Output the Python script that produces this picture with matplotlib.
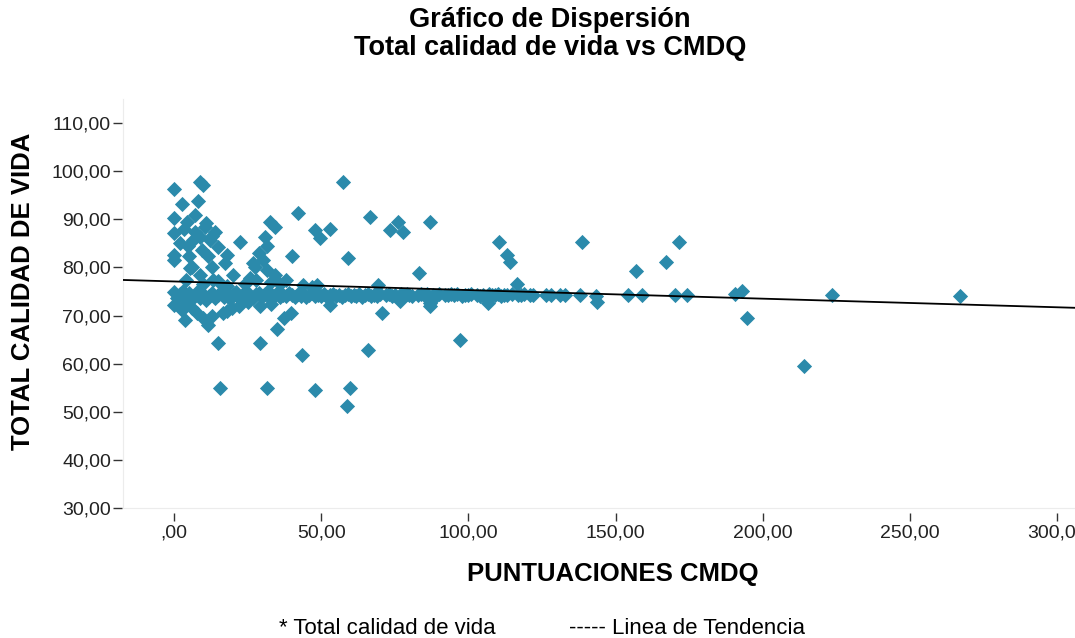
import matplotlib
matplotlib.use("Agg")
import matplotlib.pyplot as plt
import numpy as np

plt.rcParams['font.family'] = ['Liberation Sans', 'DejaVu Sans']

# ---------------- data ----------------
# points in the dense horizontal band (~74)
band_x = [0, 1, 2, 3, 4, 5, 6, 7, 8, 9,
          10, 11, 12, 13, 14, 15, 16, 17, 18, 19,
          20, 21, 22, 23, 24, 25, 26, 27, 28, 29,
          30, 31, 32, 33, 34, 35, 36, 37, 38, 39,
          40, 41, 42, 43, 44, 45, 46, 47, 48, 49,
          50, 51, 52, 53, 54, 55, 56, 57, 58, 59,
          60, 61, 62, 63, 64, 65, 66, 67, 68, 69,
          70, 72, 73, 74, 75, 77, 78, 79, 80, 81,
          83, 84, 85, 86, 88, 89, 90, 92, 93, 94,
          95, 96, 98, 99, 100, 101, 103, 104, 105, 107,
          108, 109, 110, 111, 112, 113, 115, 117, 118, 119,
          121, 122, 126.5, 128, 131, 133, 138, 143.5, 154.3, 158.9,
          170.2, 174.2, 190.5, 193, 223.5, 267]
band_y = [74.9, 73.6, 74.4, 75.1, 73.8, 74.6, 73.4, 74.2, 75.0, 73.7,
          74.5, 73.3, 74.1, 74.8, 73.6, 74.3, 75.0, 73.9, 74.4, 73.5,
          74.2, 74.9, 73.7, 74.3, 73.9, 74.6, 74.0, 73.6, 74.4, 74.8,
          73.8, 74.5, 75.2, 73.5, 74.1, 74.7, 73.9, 74.3, 74.0, 74.6,
          74.2, 73.8, 74.4, 74.0, 74.5, 73.9, 74.2, 74.6, 74.0, 74.3,
          74.1, 74.4, 73.9, 74.2, 74.5, 74.0, 74.3, 73.8, 74.2, 74.4,
          74.0, 74.3, 74.1, 74.4, 73.9, 74.2, 74.5, 74.0, 74.3, 74.1,
          74.4, 74.2, 74.5, 74.1, 74.3, 74.4, 74.2, 74.5, 74.3, 74.1,
          74.3, 74.4, 74.2, 74.5, 74.3, 74.1, 74.4, 74.2, 74.3, 74.5,
          74.2, 74.4, 74.1, 74.3, 74.2, 74.4, 74.3, 74.1, 74.2, 74.4,
          74.3, 74.2, 74.4, 74.1, 74.3, 74.2, 74.4, 74.3, 74.2, 74.4,
          74.3, 74.2, 74.3, 74.2, 74.3, 74.2, 74.2, 74.0, 74.2, 74.2,
          74.2, 74.2, 74.5, 75.1, 74.2, 74.1]

# points above the band
upper_x = [0, 8.8, 10, 2.6, 8.3, 0, 0, 0, 0,
           4.3, 7.1, 10.5, 14, 12.2, 2, 4.9, 9.4, 11.5, 6, 8.8,
           22.4, 17.9, 17.3, 27.5, 13, 9, 6.5, 3.5, 11, 15,
           5, 13, 4, 10, 15, 20, 24, 18, 7, 5.4,
           13.3, 27, 32.6, 34.3, 31, 31.5, 30.3, 31.5, 34.3, 29,
           33, 28, 36, 38, 40, 42.2, 47.9, 49.6, 53, 57.5,
           59.2, 66.6, 73.4, 76, 77.8, 87, 83.2, 110.5, 113, 114,
           138.5, 157, 167.3, 171.6, 69.4, 116.4, 48.5, 26, 44, 47]
upper_y = [96.4, 97.8, 97.2, 93.3, 93.8, 90.2, 87.2, 82.5, 81.5,
           89.5, 87.4, 88.5, 87.4, 85.7, 85.0, 84.4, 83.6, 82.3, 80.2, 78.4,
           85.4, 82.6, 80.9, 80.2, 86.5, 86.4, 85.8, 88.0, 89.2, 84.2,
           82.4, 80.0, 77.5, 76.5, 77.2, 78.5, 76.5, 76.2, 91.0, 79.9,
           77.4, 81.0, 89.5, 88.5, 86.4, 84.5, 81.6, 79.5, 78.4, 83.0,
           77.0, 77.3, 76.5, 77.5, 82.3, 91.3, 87.8, 86.1, 88.1, 97.8,
           81.9, 90.6, 87.8, 89.5, 87.4, 89.5, 78.9, 85.4, 82.6, 81.2,
           85.4, 79.3, 81.2, 85.2, 76.3, 76.6, 76.4, 77.8, 76.3, 76.0]

# points below the band
lower_x = [0, 3.7, 11.7, 15, 29.2, 34.9, 37.5, 39.8, 43.4, 15.6,
           31.5, 47.9, 59.8, 58.8, 66, 70.8, 53, 29.2, 87, 87,
           76.8, 97.3, 106.8, 143.6, 194.5, 214, 8, 13, 6, 18,
           22, 10, 16.7, 2.6, 19.6, 4, 33, 25]
lower_y = [72.2, 69.1, 68.0, 64.3, 64.4, 67.2, 69.4, 70.5, 61.8, 54.9,
           54.9, 54.5, 54.9, 51.2, 62.9, 70.5, 72.2, 71.9, 72.6, 72.0,
           73.0, 64.9, 72.6, 72.9, 69.4, 59.6, 70.5, 70.0, 71.5, 71.0,
           72.0, 69.6, 70.5, 71.2, 71.6, 72.6, 72.5, 72.8]

# linear trend (fit)
trend_intercept = 77.1
trend_slope = -0.0179

x_ticks = [0, 50, 100, 150, 200, 250, 300]
x_tick_labels = [",00", "50,00", "100,00", "150,00", "200,00", "250,00", "300,00"]
y_ticks = [30, 40, 50, 60, 70, 80, 90, 100, 110]
y_tick_labels = ["30,00", "40,00", "50,00", "60,00", "70,00", "80,00", "90,00", "100,00", "110,00"]

title_text = "Gráfico de Dispersión\nTotal calidad de vida vs CMDQ"
x_label = "PUNTUACIONES CMDQ"
y_label = "TOTAL CALIDAD DE VIDA"
legend_points = "* Total calidad de vida"
legend_line = "----- Linea de Tendencia"

# ---------------- figure ----------------
W, H = 1075, 638
fig = plt.figure(figsize=(W / 100, H / 100), dpi=100)
fig.patch.set_facecolor("white")

xlim = (-17.3, 310)
ylim = (30, 115)
left_px, bottom_px = 123, 508
px_per_x = 2.944
px_per_y = 4.81
ax_w = (xlim[1] - xlim[0]) * px_per_x
ax_h = (ylim[1] - ylim[0]) * px_per_y
ax = fig.add_axes([left_px / W, (H - bottom_px) / H, ax_w / W, ax_h / H])
ax.set_xlim(*xlim)
ax.set_ylim(*ylim)

point_color = "#2b8aab"
all_x = band_x + upper_x + lower_x
all_y = band_y + upper_y + lower_y
ax.scatter(all_x, all_y, marker="D", s=60, color=point_color,
           linewidths=0, zorder=3, clip_on=False)

lx = np.array(xlim)
ax.plot(lx, trend_intercept + trend_slope * lx, color="black", lw=1.3, zorder=4)

for s in ax.spines.values():
    s.set_visible(False)
ax.spines["bottom"].set_position(("outward", 3.6))
ax.spines["left"].set_position(("outward", 0.7))

# faint axis frame lines
ax.plot([0, 0], [0, 1], transform=ax.transAxes, color="#ececec", lw=0.8, clip_on=False, zorder=1)
ax.plot([0, 1], [0, 0], transform=ax.transAxes, color="#ececec", lw=0.8, clip_on=False, zorder=1)

ax.set_xticks(x_ticks)
ax.set_xticklabels(x_tick_labels)
ax.set_yticks(y_ticks)
ax.set_yticklabels(y_tick_labels)
ax.tick_params(axis="x", direction="out", length=5.8, width=1.0, pad=2.5,
               color="#333333", labelsize=14, labelcolor="#222222")
ax.tick_params(axis="y", direction="out", length=6.5, width=1.0, pad=1.5,
               color="#333333", labelsize=14, labelcolor="#222222")

fig.text(550 / W, 1 - 7 / H, title_text, ha="center", va="top",
         fontsize=19.5, fontweight="bold", linespacing=1.1)
fig.text(23 / W, 1 - 291 / H, y_label, rotation=90, ha="center", va="center",
         fontsize=18.5, fontweight="bold")
fig.text(613 / W, 1 - 574 / H, x_label, ha="center", va="center",
         fontsize=18.5, fontweight="bold")
fig.text(279 / W, 1 - 628 / H, legend_points, ha="left", va="center", fontsize=16)
fig.text(569 / W, 1 - 628 / H, legend_line, ha="left", va="center", fontsize=16)

fig.savefig("out.png", dpi=100, facecolor="white")
